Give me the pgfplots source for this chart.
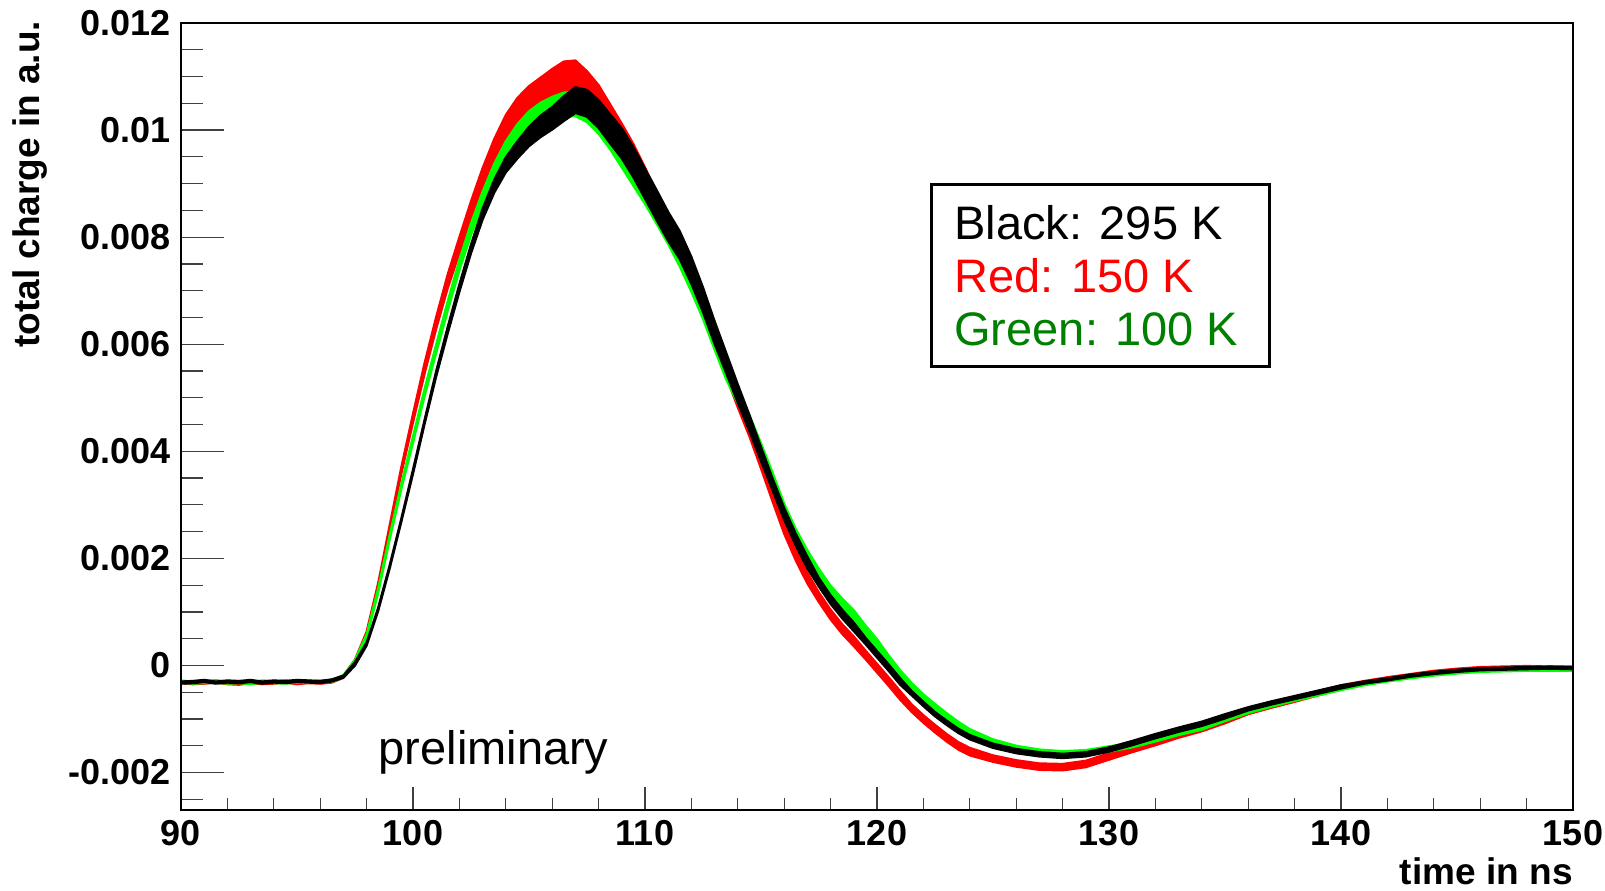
\documentclass[border=0pt]{standalone}
\usepackage{fontspec}
\setmainfont{Liberation Sans}
\usepackage{pgfplots}
\usepgfplotslibrary{fillbetween}
\pgfplotsset{compat=1.18}
\usepackage{pgfplotstable}
\definecolor{dgreen}{RGB}{0,128,0}
\definecolor{rootred}{RGB}{255,0,0}
\definecolor{rootgreen}{RGB}{0,255,0}

\pgfplotstableread{
t r re b be g ge
90.0 -0.00031 0.00002 -0.00032 0.00002 -0.00030 0.00002
90.5 -0.00033 0.00002 -0.00031 0.00002 -0.00032 0.00002
91.0 -0.00032 0.00002 -0.00029 0.00002 -0.00031 0.00002
91.5 -0.00030 0.00002 -0.00032 0.00002 -0.00030 0.00002
92.0 -0.00033 0.00002 -0.00030 0.00002 -0.00032 0.00002
92.5 -0.00034 0.00002 -0.00031 0.00002 -0.00031 0.00002
93.0 -0.00031 0.00002 -0.00029 0.00002 -0.00033 0.00002
93.5 -0.00033 0.00002 -0.00032 0.00002 -0.00030 0.00002
94.0 -0.00032 0.00002 -0.00030 0.00002 -0.00031 0.00002
94.5 -0.00030 0.00002 -0.00031 0.00002 -0.00032 0.00002
95.0 -0.00033 0.00002 -0.00029 0.00002 -0.00030 0.00002
95.5 -0.00031 0.00002 -0.00030 0.00002 -0.00031 0.00002
96.0 -0.00032 0.00002 -0.00031 0.00002 -0.00030 0.00002
96.5 -0.00030 0.00002 -0.00028 0.00002 -0.00029 0.00002
97.0 -0.00021 0.00002 -0.00021 0.00002 -0.00020 0.00002
97.5 0.00008 0.00003 0.00003 0.00003 0.00007 0.00003
98.0 0.00060 0.00003 0.00040 0.00003 0.00055 0.00003
98.5 0.00150 0.00004 0.00105 0.00003 0.00140 0.00004
99.0 0.00258 0.00005 0.00185 0.00003 0.00240 0.00004
99.5 0.00365 0.00006 0.00272 0.00003 0.00335 0.00005
100.0 0.00462 0.00008 0.00362 0.00004 0.00422 0.00006
100.5 0.00555 0.00010 0.00455 0.00004 0.00510 0.00007
101.0 0.00640 0.00011 0.00545 0.00005 0.00592 0.00008
101.5 0.00718 0.00013 0.00627 0.00006 0.00672 0.00009
102.0 0.00785 0.00015 0.00705 0.00007 0.00748 0.00010
102.5 0.00850 0.00017 0.00778 0.00008 0.00815 0.00011
103.0 0.00910 0.00019 0.00843 0.00010 0.00872 0.00013
103.5 0.00962 0.00021 0.00895 0.00012 0.00922 0.00015
104.0 0.01005 0.00023 0.00935 0.00014 0.00962 0.00017
104.5 0.01035 0.00025 0.00963 0.00016 0.00992 0.00019
105.0 0.01055 0.00027 0.00988 0.00018 0.01015 0.00020
105.5 0.01070 0.00028 0.01007 0.00020 0.01030 0.00021
106.0 0.01085 0.00029 0.01022 0.00021 0.01040 0.00022
106.5 0.01098 0.00030 0.01040 0.00023 0.01048 0.00022
107.0 0.01100 0.00030 0.01056 0.00024 0.01048 0.00022
107.5 0.01080 0.00030 0.01050 0.00025 0.01037 0.00022
108.0 0.01055 0.00029 0.01030 0.00026 0.01015 0.00022
108.5 0.01020 0.00028 0.01002 0.00027 0.00985 0.00021
109.0 0.00985 0.00027 0.00975 0.00028 0.00950 0.00020
109.5 0.00948 0.00026 0.00940 0.00028 0.00915 0.00019
110.0 0.00905 0.00025 0.00900 0.00028 0.00880 0.00018
110.5 0.00860 0.00023 0.00860 0.00028 0.00842 0.00017
111.0 0.00815 0.00021 0.00820 0.00027 0.00803 0.00016
111.5 0.00772 0.00019 0.00785 0.00026 0.00760 0.00015
112.0 0.00725 0.00017 0.00738 0.00025 0.00712 0.00014
112.5 0.00672 0.00015 0.00683 0.00023 0.00660 0.00013
113.0 0.00612 0.00013 0.00622 0.00021 0.00602 0.00012
113.5 0.00552 0.00012 0.00565 0.00019 0.00545 0.00011
114.0 0.00493 0.00011 0.00508 0.00017 0.00500 0.00010
114.5 0.00438 0.00010 0.00453 0.00015 0.00458 0.00010
115.0 0.00378 0.00010 0.00395 0.00013 0.00405 0.00010
115.5 0.00316 0.00010 0.00338 0.00011 0.00350 0.00010
116.0 0.00256 0.00010 0.00283 0.00011 0.00292 0.00010
116.5 0.00206 0.00010 0.00235 0.00011 0.00245 0.00010
117.0 0.00163 0.00010 0.00192 0.00011 0.00205 0.00010
117.5 0.00127 0.00009 0.00155 0.00008 0.00170 0.00010
118.0 0.00095 0.00009 0.00123 0.00008 0.00139 0.00010
118.5 0.00068 0.00009 0.00096 0.00008 0.00115 0.00010
119.0 0.00045 0.00009 0.00072 0.00008 0.00093 0.00010
119.5 0.00020 0.00008 0.00046 0.00006 0.00066 0.00009
120.0 -0.00005 0.00008 0.00021 0.00006 0.00040 0.00009
120.5 -0.00030 0.00008 -0.00004 0.00006 0.00010 0.00009
121.0 -0.00056 0.00008 -0.00030 0.00006 -0.00018 0.00009
121.5 -0.00080 0.00007 -0.00052 0.00004 -0.00040 0.00007
122.0 -0.00100 0.00007 -0.00072 0.00004 -0.00061 0.00007
122.5 -0.00118 0.00007 -0.00091 0.00004 -0.00079 0.00007
123.0 -0.00135 0.00007 -0.00107 0.00004 -0.00096 0.00007
123.5 -0.00150 0.00007 -0.00122 0.00004 -0.00112 0.00007
124.0 -0.00161 0.00007 -0.00134 0.00004 -0.00126 0.00007
125.0 -0.00174 0.00006 -0.00150 0.00004 -0.00143 0.00005
126.0 -0.00183 0.00006 -0.00160 0.00004 -0.00155 0.00005
127.0 -0.00189 0.00006 -0.00166 0.00004 -0.00162 0.00005
128.0 -0.00190 0.00006 -0.00169 0.00004 -0.00165 0.00005
129.0 -0.00184 0.00006 -0.00166 0.00004 -0.00163 0.00005
130.0 -0.00170 0.00006 -0.00157 0.00004 -0.00156 0.00005
131.0 -0.00157 0.00005 -0.00145 0.00004 -0.00149 0.00004
132.0 -0.00144 0.00005 -0.00132 0.00004 -0.00138 0.00004
133.0 -0.00130 0.00005 -0.00120 0.00004 -0.00126 0.00004
134.0 -0.00118 0.00005 -0.00109 0.00004 -0.00116 0.00004
135.0 -0.00103 0.00005 -0.00095 0.00004 -0.00100 0.00004
136.0 -0.00087 0.00004 -0.00081 0.00003 -0.00086 0.00003
137.0 -0.00075 0.00004 -0.00070 0.00003 -0.00074 0.00003
138.0 -0.00064 0.00004 -0.00060 0.00003 -0.00063 0.00003
139.0 -0.00052 0.00004 -0.00050 0.00003 -0.00053 0.00003
140.0 -0.00041 0.00004 -0.00040 0.00003 -0.00043 0.00003
141.0 -0.00032 0.00003 -0.00032 0.00002 -0.00035 0.00002
142.0 -0.00025 0.00003 -0.00026 0.00002 -0.00028 0.00002
143.0 -0.00019 0.00003 -0.00019 0.00002 -0.00022 0.00002
144.0 -0.00013 0.00003 -0.00014 0.00002 -0.00017 0.00002
145.0 -0.00009 0.00003 -0.00010 0.00002 -0.00013 0.00002
146.0 -0.00006 0.00003 -0.00007 0.00002 -0.00010 0.00002
147.0 -0.00005 0.00003 -0.00006 0.00002 -0.00009 0.00002
148.0 -0.00004 0.00003 -0.00005 0.00002 -0.00008 0.00002
149.0 -0.00005 0.00003 -0.00004 0.00002 -0.00008 0.00002
150.0 -0.00005 0.00003 -0.00005 0.00002 -0.00008 0.00002
}\data

\begin{document}
\begin{tikzpicture}
\begin{axis}[
  at={(0,0)}, anchor=south west,
  scale only axis, width=696pt, height=393.5pt,
  xmin=90, xmax=150, ymin=-0.0027, ymax=0.012,
  xtick=\empty,
  ytick={-0.002,0,0.002,0.004,0.006,0.008,0.01,0.012},
  yticklabels={-0.002,0,0.002,0.004,0.006,0.008,0.01,0.012},
  minor ytick={-0.0025,-0.0015,-0.001,-0.0005,0.0005,0.001,0.0015,0.0025,0.003,0.0035,0.0045,0.005,0.0055,0.0065,0.007,0.0075,0.0085,0.009,0.0095,0.0105,0.011,0.0115},
  ytick pos=left, tick align=inside,
  major tick length=21.5pt, minor tick length=11pt,
  scaled y ticks=false,
  yticklabel style={font=\bfseries\fontsize{18}{18}\selectfont, anchor=east, inner sep=0pt, xshift=-5pt},
  axis line style={line width=0.8pt},
  tick style={line width=0.6pt, black!75},
  set layers,
]
% red
\addplot[name path=rU, draw=none, forget plot] table[x=t, y expr=\thisrow{r}+\thisrow{re}] {\data};
\addplot[name path=rL, draw=none, forget plot] table[x=t, y expr=\thisrow{r}-\thisrow{re}] {\data};
\addplot[fill=rootred, draw=rootred, line width=1.1pt, line join=round, forget plot] fill between[of=rU and rL];
% green
\addplot[name path=gU, draw=none, forget plot] table[x=t, y expr=\thisrow{g}+\thisrow{ge}] {\data};
\addplot[name path=gL, draw=none, forget plot] table[x=t, y expr=\thisrow{g}-\thisrow{ge}] {\data};
\addplot[fill=rootgreen, draw=rootgreen, line width=1.1pt, line join=round, forget plot] fill between[of=gU and gL];
% black
\addplot[name path=bU, draw=none, forget plot] table[x=t, y expr=\thisrow{b}+\thisrow{be}] {\data};
\addplot[name path=bL, draw=none, forget plot] table[x=t, y expr=\thisrow{b}-\thisrow{be}] {\data};
\addplot[fill=black, draw=black, line width=1.1pt, line join=round, forget plot] fill between[of=bU and bL];
\end{axis}
\begin{axis}[
  at={(0,0)}, anchor=south west,
  scale only axis, width=696pt, height=393.5pt,
  xmin=90, xmax=150, ymin=-0.0027, ymax=0.012,
  ytick=\empty,
  xtick={90,100,110,120,130,140,150},
  xticklabels={90,100,110,120,130,140,150},
  minor xtick={92,94,96,98,102,104,106,108,112,114,116,118,122,124,126,128,132,134,136,138,142,144,146,148},
  xtick pos=bottom, tick align=inside,
  major tick length=11.5pt, minor tick length=6pt,
  xticklabel style={font=\bfseries\fontsize{18}{18}\selectfont, anchor=north, inner sep=0pt, yshift=-5pt},
  axis line style={line width=0.8pt},
  tick style={line width=0.6pt, black!75},
]
\addplot[draw=none, forget plot] coordinates {(90,0) (150,0)};
\end{axis}
% axis titles
\node[rotate=90, anchor=base east, inner sep=0pt, font=\bfseries\fontsize{18.5}{18.5}\selectfont] at (-70.75pt,394.75pt) {total charge in a.u.};
\node[anchor=base east, inner sep=0pt, font=\bfseries\fontsize{18.5}{18.5}\selectfont] at (696pt,-37pt) {time in ns};
% preliminary
\node[anchor=base west, inner sep=0pt, font=\fontsize{23.5}{23.5}\selectfont] at (98.65pt,23pt) {preliminary};
% legend box
\draw[line width=1.5pt, fill=white] (375.25pt,221.8pt) rectangle (544.15pt,312.9pt);
\node[anchor=base west, inner sep=0pt, font=\fontsize{23.5}{23.5}\selectfont] at (386.5pt,285.35pt) {Black: 295 K};
\node[anchor=base west, inner sep=0pt, font=\fontsize{23.5}{23.5}\selectfont, text=rootred] at (386.5pt,258.65pt) {Red: 150 K};
\node[anchor=base west, inner sep=0pt, font=\fontsize{23.5}{23.5}\selectfont, text=dgreen] at (386.5pt,232.5pt) {Green: 100 K};
\pgfresetboundingbox
\useasboundingbox (-90.5pt,-40pt) rectangle (712pt,405pt);
\end{tikzpicture}
\end{document}
